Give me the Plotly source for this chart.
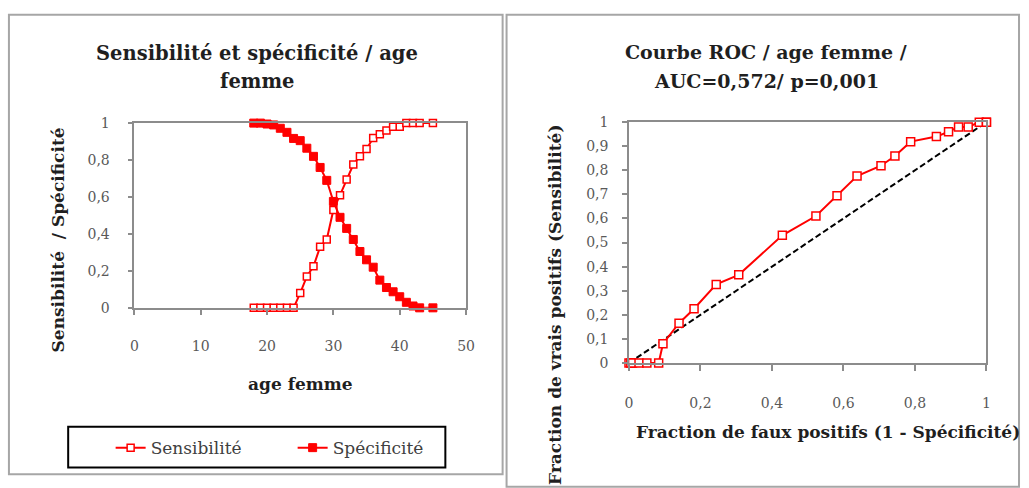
import plotly.graph_objects as go

# ---------------- data ----------------
ages = [18, 19, 20, 21, 22, 23, 24, 25, 26, 27, 28, 29, 30, 31, 32, 33, 34,
        35, 36, 37, 38, 39, 40, 41, 42, 43, 45]
sensibilite = [0, 0, 0, 0, 0, 0, 0, 0.08, 0.17, 0.225, 0.33, 0.37, 0.53, 0.61,
               0.695, 0.776, 0.82, 0.86, 0.92, 0.94, 0.96, 0.98, 0.98, 1, 1, 1, 1]
specificite = [1, 1, 0.995, 0.99, 0.972, 0.95, 0.917, 0.905, 0.864, 0.82, 0.76,
               0.69, 0.576, 0.49, 0.43, 0.37, 0.305, 0.26, 0.22, 0.15, 0.11,
               0.087, 0.06, 0.03, 0.01, 0, 0]

roc_fpr = [0, 0.005, 0.01, 0.028, 0.05, 0.083, 0.095, 0.14, 0.182, 0.244, 0.307,
           0.429, 0.523, 0.582, 0.638, 0.705, 0.744, 0.788, 0.86, 0.894, 0.922,
           0.949, 0.98, 1.0, 1.0]
roc_tpr = [0, 0, 0, 0, 0, 0, 0.08, 0.165, 0.225, 0.326, 0.366, 0.53, 0.61, 0.694,
           0.776, 0.819, 0.859, 0.919, 0.94, 0.96, 0.98, 0.98, 1.0, 1.0, 1.0]
diag_x = [0, 1]
diag_y = [0, 1]

left_xticks = [0, 10, 20, 30, 40, 50]
left_xlabels = ["0", "10", "20", "30", "40", "50"]
left_yticks = [0, 0.2, 0.4, 0.6, 0.8, 1]
left_ylabels = ["0", "0,2", "0,4", "0,6", "0,8", "1"]
right_xticks = [0, 0.2, 0.4, 0.6, 0.8, 1]
right_xlabels = ["0", "0,2", "0,4", "0,6", "0,8", "1"]
right_yticks = [0, 0.1, 0.2, 0.3, 0.4, 0.5, 0.6, 0.7, 0.8, 0.9, 1]
right_ylabels = ["0", "0,1", "0,2", "0,3", "0,4", "0,5", "0,6", "0,7", "0,8", "0,9", "1"]

# ---------------- layout helpers ----------------
W, H = 1029, 488
def px(x):
    return x / W
def py(y):
    return 1 - y / H

RED = "#FF0000"
AX = "#8C8C8C"
TICKC = "#595959"
TXT = "#1F1F1F"
FONT = "DejaVu Serif"

fig = go.Figure()

fig.add_trace(go.Scatter(
    x=ages, y=sensibilite, name="Sensibilité", mode="lines+markers",
    line=dict(color=RED, width=2),
    marker=dict(symbol="square", size=7, color="white", line=dict(color=RED, width=1.5)),
    xaxis="x", yaxis="y", cliponaxis=False))
fig.add_trace(go.Scatter(
    x=ages, y=specificite, name="Spécificité", mode="lines+markers",
    line=dict(color=RED, width=2),
    marker=dict(symbol="square", size=8, color=RED, line=dict(color=RED, width=1)),
    xaxis="x", yaxis="y", cliponaxis=False))

fig.add_trace(go.Scatter(
    x=diag_x, y=diag_y, mode="lines", showlegend=False,
    line=dict(color="black", width=2, dash="6px,3px"),
    xaxis="x2", yaxis="y2", cliponaxis=False))
fig.add_trace(go.Scatter(
    x=roc_fpr, y=roc_tpr, mode="lines+markers", showlegend=False,
    line=dict(color=RED, width=2),
    marker=dict(symbol="square", size=8, color="white", line=dict(color=RED, width=1.5)),
    xaxis="x2", yaxis="y2", cliponaxis=False))

axis_common = dict(showline=True, linecolor=AX, linewidth=1.5, mirror=True,
                   showgrid=False, zeroline=False, ticks="outside",
                   tickcolor=AX, tickwidth=1.5,
                   tickfont=dict(family=FONT, size=14, color=TICKC), fixedrange=True)

fig.update_layout(
    width=W, height=H,
    margin=dict(l=0, r=0, t=0, b=0),
    paper_bgcolor="white", plot_bgcolor="white",
    font=dict(family=FONT, color=TXT),
    xaxis=dict(domain=[px(132), px(468)], range=[0, 50], anchor="y",
               tickvals=left_xticks, ticktext=left_xlabels, ticklen=5,
               ticklabelstandoff=20, **axis_common),
    yaxis=dict(domain=[py(310), py(119)], range=[0, 1], anchor="x",
               tickvals=left_yticks, ticktext=left_ylabels, ticklen=5,
               ticklabelstandoff=15, **axis_common),
    xaxis2=dict(domain=[px(633), px(995)], range=[0, 1], anchor="y2",
                tickvals=right_xticks, ticktext=right_xlabels, ticklen=6,
                ticklabelstandoff=20, **axis_common),
    yaxis2=dict(domain=[py(367), py(118)], range=[0, 1], anchor="x2",
                tickvals=right_yticks, ticktext=right_ylabels, ticklen=5,
                ticklabelstandoff=11, **axis_common),
    legend=dict(orientation="h", x=px(108), y=py(455), xanchor="left", yanchor="middle",
                borderwidth=0, bgcolor="rgba(0,0,0,0)",
                font=dict(family=FONT, size=17, color="#404040"),
                itemwidth=30, entrywidth=137, entrywidthmode="pixels"),
    showlegend=True,
)

# panel borders
fig.add_shape(type="rect", xref="paper", yref="paper",
              x0=px(5), x1=px(505), y0=py(482), y1=py(7),
              line=dict(color="#A6A6A6", width=2), layer="below")
fig.add_shape(type="rect", xref="paper", yref="paper",
              x0=px(509), x1=px(1028), y0=py(495), y1=py(7),
              line=dict(color="#A6A6A6", width=2), layer="below")
# legend frame
fig.add_shape(type="rect", xref="paper", yref="paper",
              x0=px(65), x1=px(447), y0=py(475), y1=py(433),
              line=dict(color="black", width=2), layer="below")

annots = [
    dict(text="<b>Sensibilité et spécificité / age</b>", x=px(256), y=py(47), size=19.5, angle=0),
    dict(text="<b>femme</b>", x=px(256), y=py(76), size=19.5, angle=0),
    dict(text="<b>Courbe ROC / age femme /</b>", x=px(772), y=py(45), size=19, angle=0),
    dict(text="<b>AUC=0,572/ p=0,001</b>", x=px(772), y=py(75), size=19, angle=0),
    dict(text="<b>age femme</b>", x=px(300), y=py(389), size=17, angle=0),
    dict(text="<b>Sensibilité  / Spécificité</b>", x=px(55), y=py(240), size=17, angle=-90),
    dict(text="<b>Fraction de faux positifs (1 - Spécificité)</b>", x=px(835), y=py(438),
         size=17, angle=0),
    dict(text="<b>Fraction de vrais positifs (Sensibilité)</b>", x=px(558), y=py(307),
         size=17, angle=-90),
]
for a in annots:
    fig.add_annotation(text=a["text"], x=a["x"], y=a["y"], xref="paper", yref="paper",
                       xanchor="center", yanchor="middle", showarrow=False,
                       textangle=a["angle"],
                       font=dict(family=FONT, size=a["size"], color=TXT))

fig.write_html("out.html")
